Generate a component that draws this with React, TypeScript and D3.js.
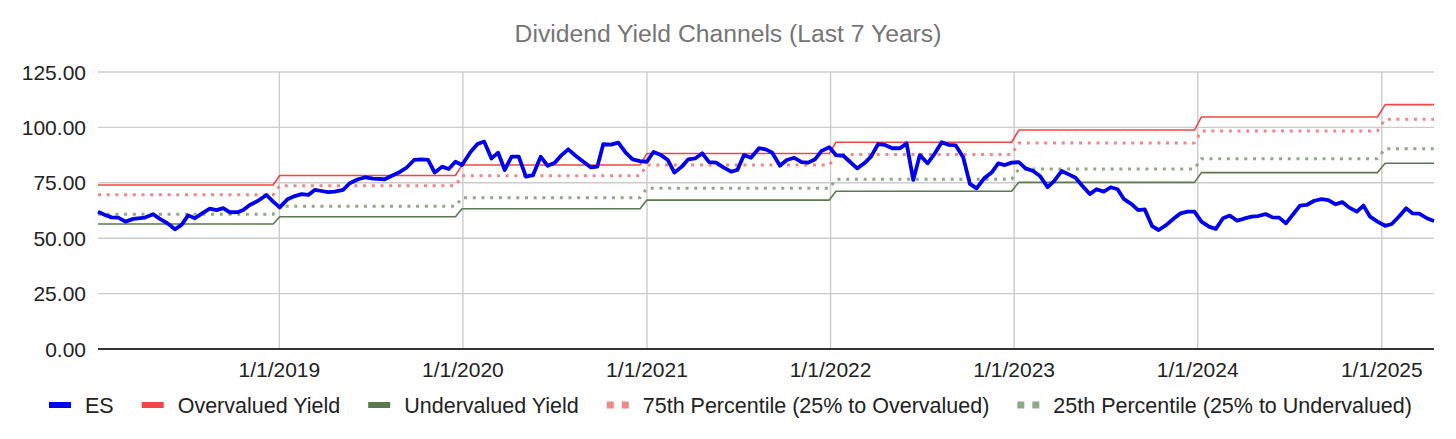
import React, { useEffect, useRef } from 'react';
import * as d3 from 'd3';

// ES dividend yield (time as decimal year)
const esTime = [
  2018.015, 2018.053, 2018.089, 2018.125, 2018.165, 2018.207, 2018.271, 2018.316, 2018.352, 2018.394,
  2018.434, 2018.470, 2018.506, 2018.543, 2018.582, 2018.624, 2018.661, 2018.697, 2018.733, 2018.778,
  2018.806, 2018.842, 2018.887, 2018.933, 2018.969, 2019.005, 2019.047, 2019.087, 2019.124, 2019.160,
  2019.196, 2019.232, 2019.268, 2019.305, 2019.350, 2019.386, 2019.432, 2019.472, 2019.513, 2019.577,
  2019.613, 2019.659, 2019.695, 2019.737, 2019.777, 2019.813, 2019.849, 2019.889, 2019.925, 2019.962,
  2019.998, 2020.045, 2020.082, 2020.118, 2020.158, 2020.194, 2020.230, 2020.267, 2020.306, 2020.345,
  2020.384, 2020.425, 2020.463, 2020.502, 2020.539, 2020.575, 2020.615, 2020.657, 2020.697, 2020.733,
  2020.765, 2020.807, 2020.847, 2020.887, 2020.925, 2020.965, 2021.002, 2021.038, 2021.079, 2021.116,
  2021.152, 2021.192, 2021.228, 2021.265, 2021.304, 2021.341, 2021.379, 2021.419, 2021.461, 2021.495,
  2021.531, 2021.569, 2021.613, 2021.649, 2021.685, 2021.727, 2021.764, 2021.805, 2021.845, 2021.881,
  2021.918, 2021.954, 2021.996, 2022.032, 2022.072, 2022.108, 2022.148, 2022.186, 2022.223, 2022.262,
  2022.299, 2022.339, 2022.381, 2022.417, 2022.453, 2022.489, 2022.531, 2022.571, 2022.608, 2022.647,
  2022.684, 2022.725, 2022.762, 2022.798, 2022.839, 2022.880, 2022.916, 2022.952, 2022.989, 2023.028,
  2023.065, 2023.106, 2023.143, 2023.185, 2023.220, 2023.261, 2023.300, 2023.337, 2023.375, 2023.415,
  2023.451, 2023.491, 2023.529, 2023.566, 2023.601, 2023.642, 2023.678, 2023.714, 2023.754, 2023.790,
  2023.832, 2023.874, 2023.909, 2023.947, 2023.985, 2024.023, 2024.064, 2024.101, 2024.140, 2024.177,
  2024.217, 2024.253, 2024.295, 2024.331, 2024.371, 2024.409, 2024.445, 2024.482, 2024.522, 2024.558,
  2024.594, 2024.636, 2024.676, 2024.712, 2024.752, 2024.788, 2024.826, 2024.867, 2024.903, 2024.939,
  2024.979, 2025.021, 2025.057, 2025.099, 2025.135, 2025.171, 2025.207, 2025.248, 2025.287,
];
const esValue = [
  62.0, 60.5, 59.4, 59.3, 57.5, 58.7, 59.3, 60.8, 58.7, 56.7,
  54.0, 56.0, 60.3, 59.0, 61.2, 63.3, 62.7, 63.6, 61.7, 61.8,
  62.7, 65.0, 66.9, 69.5, 66.5, 63.9, 67.6, 69.0, 69.9, 69.5,
  71.8, 71.3, 70.8, 71.0, 71.8, 74.8, 76.6, 77.5, 76.9, 76.6,
  78.1, 79.9, 81.8, 85.3, 85.6, 85.3, 79.6, 82.3, 81.2, 84.5,
  83.0, 89.0, 92.5, 93.6, 86.0, 88.6, 80.8, 86.8, 86.8, 77.8,
  78.5, 86.8, 82.7, 84.1, 87.5, 90.1, 87.2, 84.5, 82.0, 82.3,
  92.4, 92.2, 93.1, 88.6, 85.6, 84.8, 84.5, 88.9, 87.5, 85.3,
  79.6, 82.3, 85.6, 86.0, 88.3, 84.3, 84.1, 82.0, 80.0, 80.8,
  87.5, 86.3, 90.6, 90.1, 88.6, 82.7, 85.3, 86.3, 84.3, 84.1,
  85.6, 89.4, 91.0, 87.5, 87.2, 84.5, 81.5, 83.8, 86.8, 92.5,
  92.1, 90.6, 90.6, 92.8, 76.3, 87.5, 83.8, 88.3, 93.3, 92.1,
  91.9, 86.5, 74.5, 72.5, 77.0, 79.6, 83.8, 83.0, 84.1, 84.3,
  81.5, 80.3, 78.1, 73.0, 75.8, 80.3, 78.8, 77.3, 73.6, 69.9,
  72.1, 71.0, 73.0, 72.1, 67.6, 65.4, 62.7, 63.0, 55.5, 53.7,
  56.0, 59.0, 61.2, 62.0, 62.0, 57.5, 55.2, 54.2, 59.0, 60.2,
  57.9, 58.8, 59.7, 60.0, 60.9, 59.4, 59.3, 56.7, 60.9, 64.7,
  65.0, 66.9, 67.6, 67.2, 65.3, 66.3, 63.8, 62.0, 64.7, 59.7,
  57.5, 55.6, 56.4, 60.0, 63.5, 61.2, 61.1, 59.0, 57.8,
];

// Yearly channel levels
const bandYears = [2018, 2019, 2020, 2021, 2022, 2023, 2024, 2025];
const overvaluedYield = [74.0, 78.3, 83.0, 88.2, 93.3, 98.8, 104.7, 110.3];
const undervaluedYield = [56.4, 59.7, 63.3, 67.2, 71.2, 75.2, 79.6, 83.8];
const pct75Yield = [69.6, 73.7, 78.2, 83.0, 87.8, 93.0, 98.4, 103.7];
const pct25Yield = [60.8, 64.4, 68.3, 72.5, 76.6, 81.2, 85.9, 90.4];

const yTicks = [0, 25, 50, 75, 100, 125];
const xTickLabels = ['1/1/2019', '1/1/2020', '1/1/2021', '1/1/2022', '1/1/2023', '1/1/2024', '1/1/2025'];

const FONT = 'Arial, "Liberation Sans", sans-serif';

const toDate = (t: number) => {
  const yr = Math.floor(t);
  const start = Date.UTC(yr, 0, 1);
  const end = Date.UTC(yr + 1, 0, 1);
  return new Date(start + (t - yr) * (end - start));
};

const App: React.FC = () => {
  const ref = useRef<SVGSVGElement | null>(null);

  useEffect(() => {
    if (!ref.current) return;
    const svg = d3.select(ref.current);
    svg.selectAll('*').remove();

    const left = 98, right = 1434, top = 72, bottom = 349;

    const x = d3.scaleUtc()
      .domain([toDate(esTime[0]), toDate(esTime[esTime.length - 1])])
      .range([left, right]);
    const y = d3.scaleLinear().domain([0, 125]).range([bottom, top]);

    // Title
    svg.append('text')
      .attr('x', 728).attr('y', 42)
      .attr('text-anchor', 'middle')
      .style('font-family', FONT).style('font-size', '24.7px')
      .attr('fill', '#757575')
      .text('Dividend Yield Channels (Last 7 Years)');

    // Horizontal grid + y labels
    const g = svg.append('g');
    yTicks.forEach((v) => {
      if (v > 0) {
        g.append('line')
          .attr('x1', left).attr('x2', right)
          .attr('y1', y(v)).attr('y2', y(v))
          .attr('stroke', '#cccccc').attr('stroke-width', 1.4);
      }
      g.append('text')
        .attr('x', 86).attr('y', y(v))
        .attr('dy', '0.36em')
        .attr('text-anchor', 'end')
        .style('font-family', FONT).style('font-size', '21px')
        .attr('fill', '#222')
        .text(v.toFixed(2));
    });

    // Vertical grid + x labels
    const tickDates = xTickLabels.map((s) => {
      const [m, d, yr] = s.split('/').map(Number);
      return new Date(Date.UTC(yr, m - 1, d));
    });
    g.append('g')
      .attr('transform', `translate(0,${bottom})`)
      .call(d3.axisBottom(x).tickValues(tickDates).tickSize(-(bottom - top)).tickFormat((_, i) => xTickLabels[i]))
      .call((ax) => {
        ax.select('.domain').remove();
        ax.selectAll('.tick line').attr('stroke', '#cccccc').attr('stroke-width', 1.4);
        ax.selectAll('.tick text')
          .attr('y', 28).attr('dy', 0)
          .style('font-family', FONT).style('font-size', '21px')
          .attr('fill', '#222');
      });

    // Baseline
    g.append('line')
      .attr('x1', left).attr('x2', right)
      .attr('y1', bottom).attr('y2', bottom)
      .attr('stroke', '#333').attr('stroke-width', 2);

    // Channel series, sampled on the ES dates
    const yearIdx = (t: number) => bandYears.indexOf(Math.floor(t + 0.003));
    const line = d3.line<[number, number]>()
      .x((d) => x(toDate(d[0])))
      .y((d) => y(d[1]));

    const bands = [
      { vals: pct25Yield, color: '#8fa889', width: 3, dash: '3 5.7' },
      { vals: pct75Yield, color: '#f08686', width: 3, dash: '3 5.7' },
      { vals: undervaluedYield, color: '#587a4c', width: 1.6, dash: null },
      { vals: overvaluedYield, color: '#f24646', width: 1.6, dash: null },
    ];
    bands.forEach((b) => {
      const pts: [number, number][] = esTime.map((t) => [t, b.vals[yearIdx(t)]]);
      svg.append('path')
        .attr('d', line(pts))
        .attr('fill', 'none')
        .attr('stroke', b.color)
        .attr('stroke-width', b.width)
        .attr('stroke-dasharray', b.dash)
        .attr('stroke-linejoin', 'round');
    });

    // ES line
    const esPts: [number, number][] = esTime.map((t, i) => [t, esValue[i]]);
    svg.append('path')
      .attr('d', line(esPts))
      .attr('fill', 'none')
      .attr('stroke', '#0000ee')
      .attr('stroke-width', 3.8)
      .attr('stroke-linejoin', 'round');

    // Legend
    const legend = [
      { label: 'ES', color: '#0000ee', dotted: false },
      { label: 'Overvalued Yield', color: '#f24646', dotted: false },
      { label: 'Undervalued Yield', color: '#587a4c', dotted: false },
      { label: '75th Percentile (25% to Overvalued)', color: '#f08686', dotted: true },
      { label: '25th Percentile (25% to Undervalued)', color: '#8fa889', dotted: true },
    ];
    const ly = 405;
    let lx = 49;
    legend.forEach((item) => {
      const lg = svg.append('g');
      if (item.dotted) {
        lg.append('rect').attr('x', lx).attr('y', ly - 3.5).attr('width', 7).attr('height', 7).attr('fill', item.color);
        lg.append('rect').attr('x', lx + 15).attr('y', ly - 3.5).attr('width', 7).attr('height', 7).attr('fill', item.color);
      } else {
        lg.append('rect').attr('x', lx).attr('y', ly - 3).attr('width', 22).attr('height', 6).attr('fill', item.color);
      }
      const txt = lg.append('text')
        .attr('x', lx + 36).attr('y', ly)
        .attr('dy', '0.36em')
        .style('font-family', FONT).style('font-size', '21.5px')
        .attr('fill', '#222')
        .text(item.label);
      const w = (txt.node() as SVGTextElement).getComputedTextLength();
      lx = lx + 36 + w + 28;
    });
  }, []);

  return (
    <svg
      ref={ref}
      width={1456}
      height={439}
      style={{ position: 'absolute', left: 0, top: 0, background: '#fff' }}
    />
  );
};

export default App;
